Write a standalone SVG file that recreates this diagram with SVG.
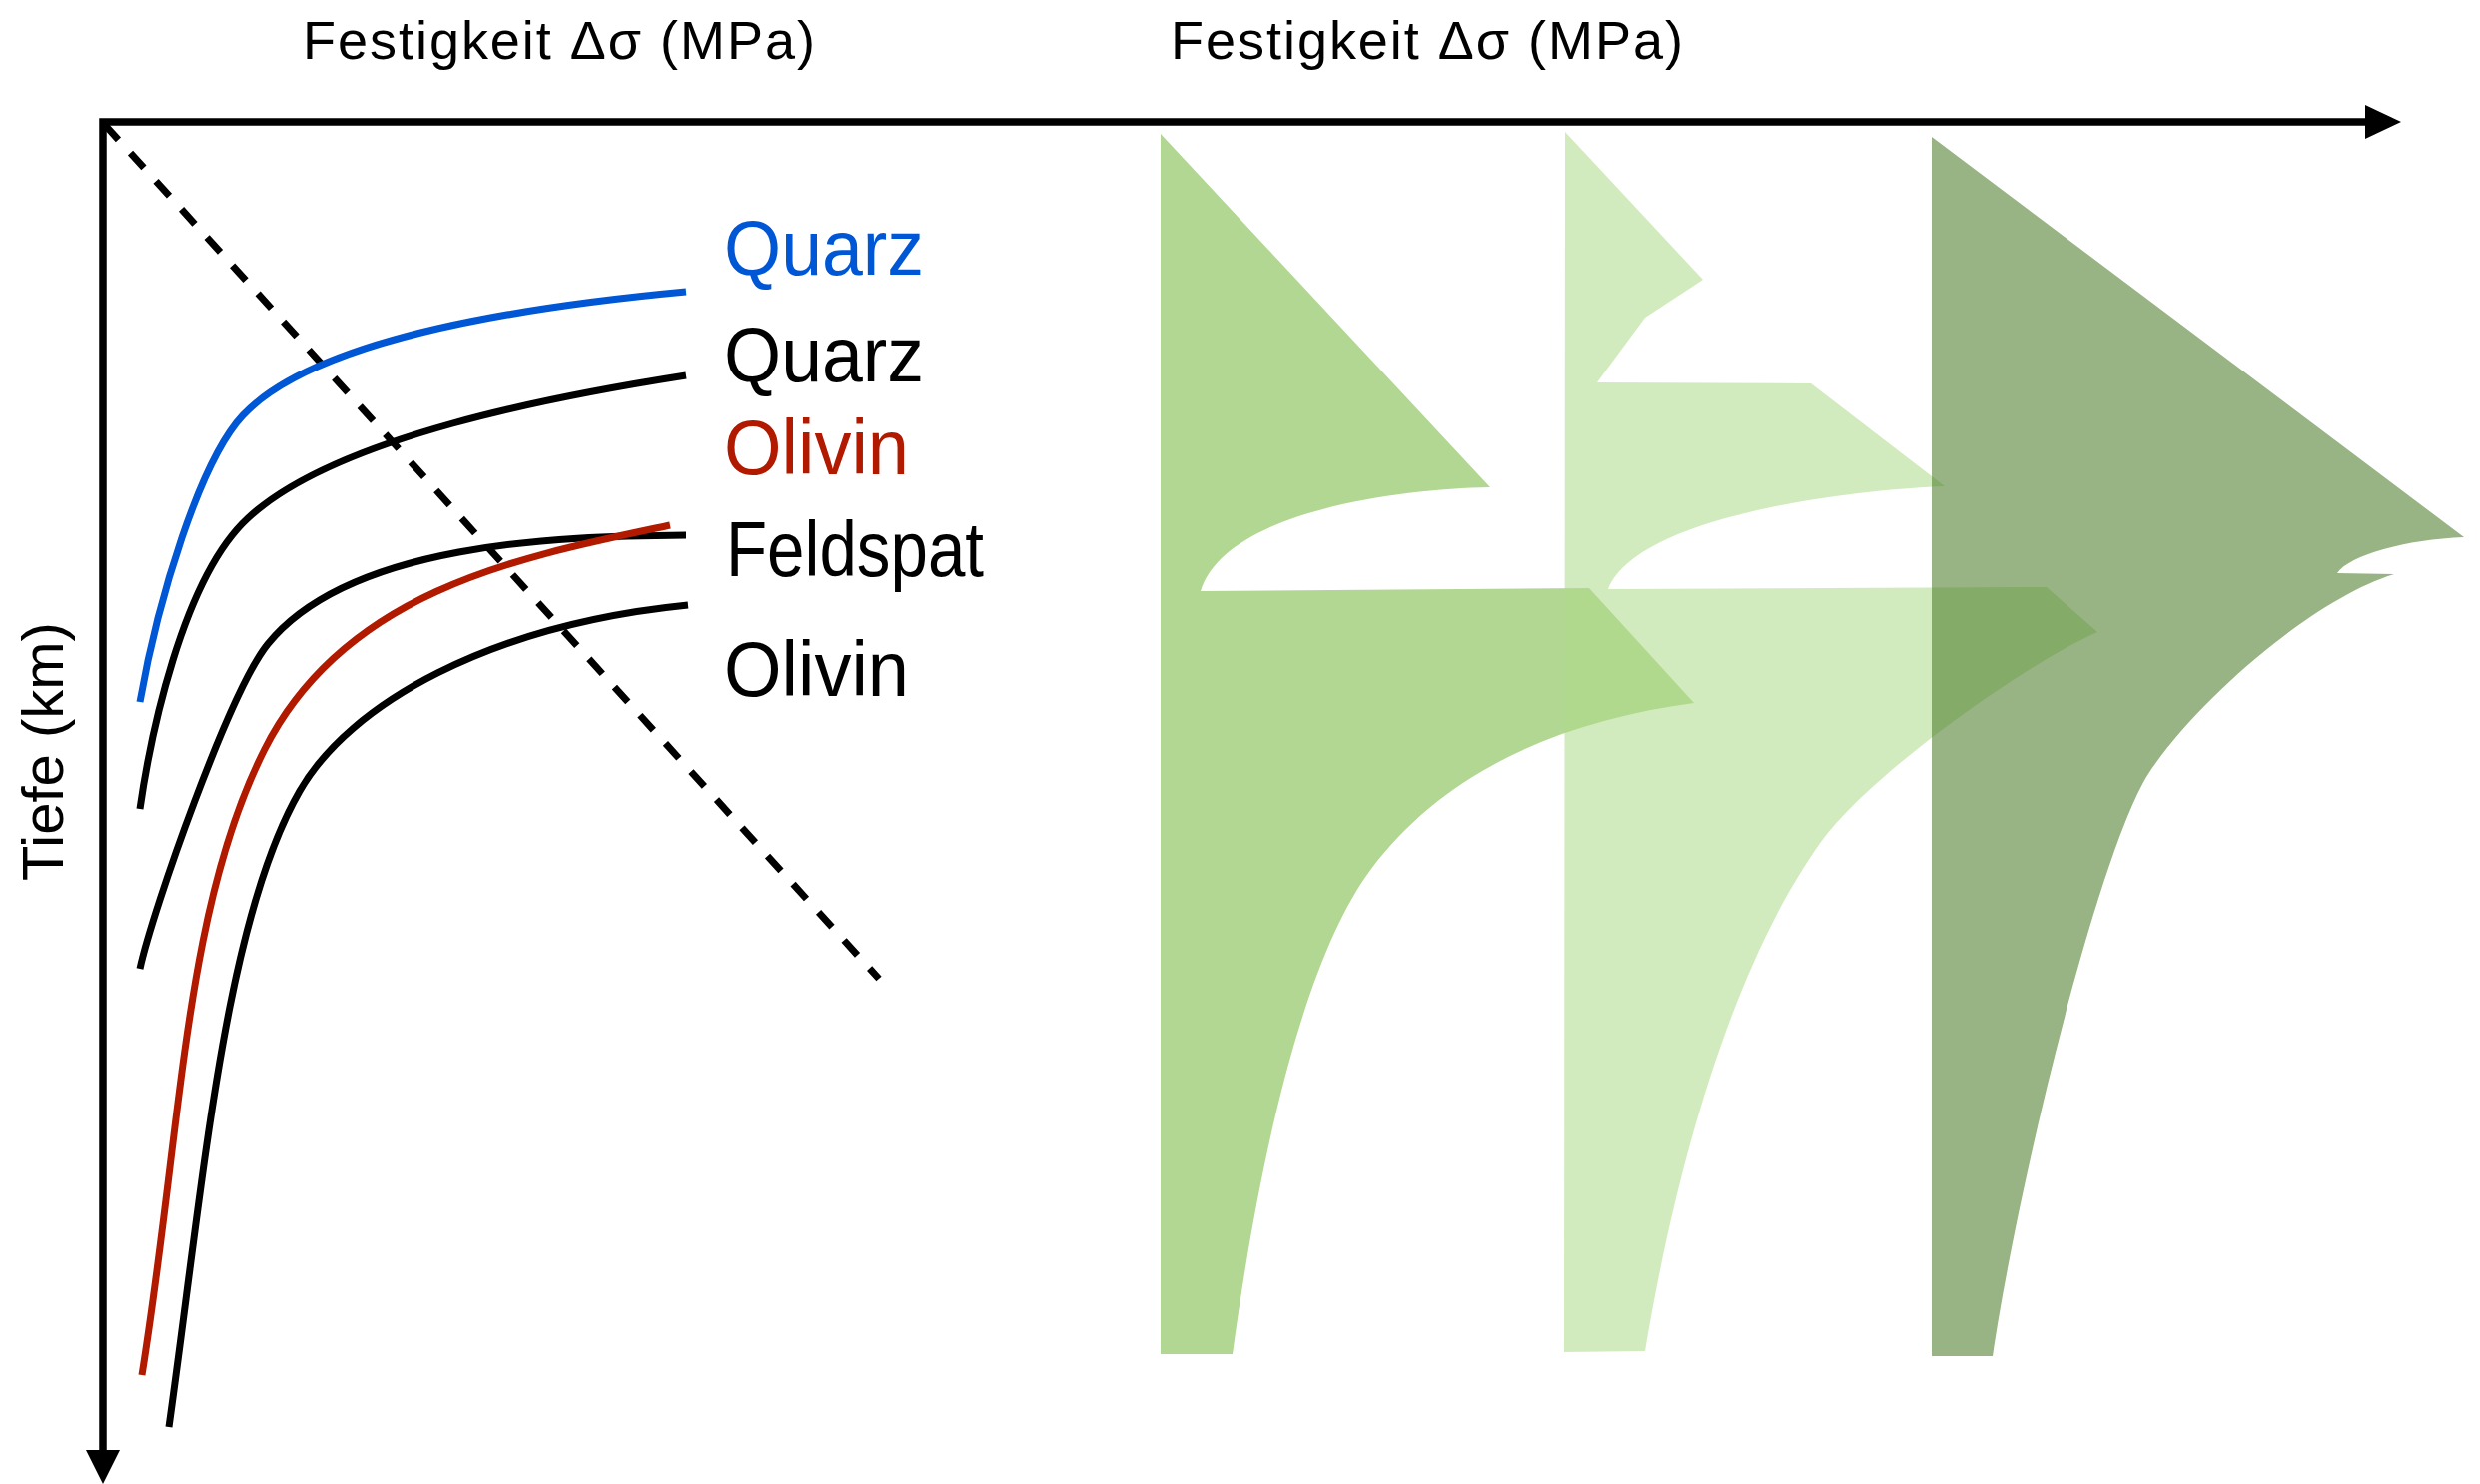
<svg xmlns="http://www.w3.org/2000/svg" width="2483" height="1486" viewBox="0 0 2483 1486">
<style>
  text { font-family: "Liberation Sans", Arial, sans-serif; }
  .title { font-size: 54px; fill: #000; }
  .lbl { font-size: 77px; }
  .curve { fill: none; stroke-width: 7; stroke-linecap: butt; }
  .axis { fill: none; stroke: #000; stroke-width: 7.5; }
</style>
<rect x="0" y="0" width="2483" height="1486" fill="#ffffff"/>

<g id="shapes">
  <path id="shape1" fill="#B2D793" d="M1162,134 L1492,488 C1390,490 1225,515 1202,592 L1591,589 L1696,704 C1560,722 1445,774 1373,870 C1307,958 1262,1150 1234,1356 L1162,1356 Z"/>
  <path id="shape2" fill="#AFDB8B" fill-opacity="0.56" d="M1567,132 L1705,280 L1647,318 L1599,383 L1813,384 L1947,487 C1860,490 1640,515 1610,590 L2049,588 L2100,633 C2030,664 1875,772 1823,843 C1725,980 1672,1202 1647,1353 L1566,1354 Z"/>
  <path id="shape3" fill="#4E7C2B" fill-opacity="0.58" d="M1934,137 L2467,538 C2410,540 2352,556 2340,574 L2397,575 C2315,600 2195,705 2149,778 C2099,863 2020,1187 1995,1358 L1934,1358 Z"/>
</g>

<g id="connectors">
  <path class="axis" d="M103,1455 V122 H2372"/>
  <polygon points="86,1452 120,1452 103,1486" fill="#000"/>
  <polygon points="2368,105 2368,139 2404,122" fill="#000"/>
  <line x1="105" y1="125" x2="880" y2="980" stroke="#000" stroke-width="7" stroke-dasharray="20 18"/>
</g>

<g id="curve-quarz-blue">
  <path class="curve" stroke="#0057D6" d="M140,703 C158,600 200,462 243,416 C318,336 537,306 687,292"/>
</g>
<g id="curve-quarz-black">
  <path class="curve" stroke="#000" d="M140,810 C150,740 182,580 248,519 C336,437 559,396 687,376"/>
</g>
<g id="curve-feldspat">
  <path class="curve" stroke="#000" d="M140,970 C153,910 230,692 268,645 C350,544 557,537 687,536"/>
</g>
<g id="curve-olivin-red">
  <path class="curve" stroke="#B21A00" stroke-width="6" d="M142,1377 C182,1127 184,910 265,750 C346,590 524,557 671,526"/>
</g>
<g id="curve-olivin-black">
  <path class="curve" stroke="#000" d="M169,1429 C204,1179 225,922 300,792 C350,705 489,626 689,606"/>
</g>

<g id="title-left">
  <text class="title" x="303" y="59" textLength="513" lengthAdjust="spacing">Festigkeit Δσ (MPa)</text>
</g>
<g id="title-right">
  <text class="title" x="1172" y="59" textLength="513" lengthAdjust="spacing">Festigkeit Δσ (MPa)</text>
</g>
<g id="label-depth">
  <text x="0" y="0" font-size="58" transform="translate(63,882) rotate(-90)">Tiefe (km)</text>
</g>

<g id="label-quarz-blue"><text class="lbl" x="725" y="275" fill="#0057D6" textLength="200" lengthAdjust="spacingAndGlyphs">Quarz</text></g>
<g id="label-quarz-black"><text class="lbl" x="725" y="382" fill="#000" textLength="200" lengthAdjust="spacingAndGlyphs">Quarz</text></g>
<g id="label-olivin-red"><text class="lbl" x="725" y="475" fill="#B21A00" textLength="185" lengthAdjust="spacingAndGlyphs">Olivin</text></g>
<g id="label-feldspat"><text class="lbl" x="727" y="577" fill="#000" textLength="258" lengthAdjust="spacingAndGlyphs">Feldspat</text></g>
<g id="label-olivin-black"><text class="lbl" x="725" y="697" fill="#000" textLength="185" lengthAdjust="spacingAndGlyphs">Olivin</text></g>
</svg>
